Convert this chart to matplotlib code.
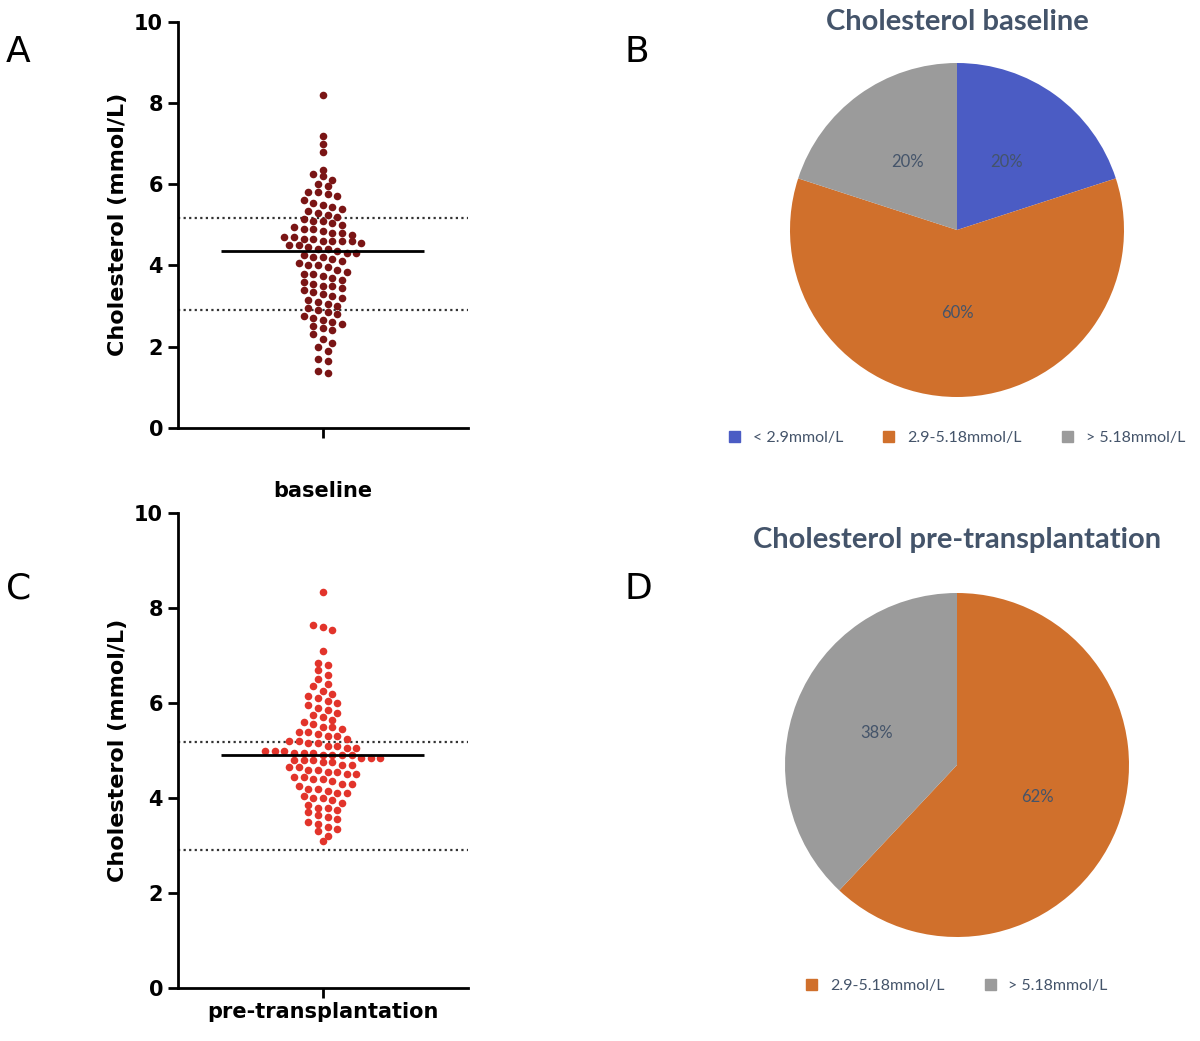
import numpy as np
import matplotlib.pyplot as plt

# panel A: cholesterol at baseline (mmol/L)
chol_base = [8.2, 7.2, 7.0, 6.8, 6.35, 6.25, 6.2, 6.1, 6.0, 5.95, 5.8, 5.8, 5.75, 5.7, 5.6, 5.55,
             5.5, 5.45, 5.4, 5.35, 5.3, 5.25, 5.2, 5.15, 5.1, 5.1, 5.05, 5.0, 4.95, 4.9, 4.9, 4.85,
             4.8, 4.8, 4.75, 4.7, 4.7, 4.65, 4.65, 4.6, 4.6, 4.6, 4.6, 4.55, 4.5, 4.5, 4.45, 4.4, 4.4,
             4.35, 4.3, 4.3, 4.25, 4.2, 4.2, 4.15, 4.1, 4.05, 4.0, 4.0, 3.95, 3.9, 3.85, 3.8, 3.8,
             3.75, 3.7, 3.65, 3.6, 3.55, 3.5, 3.5, 3.45, 3.4, 3.35, 3.3, 3.25, 3.2, 3.15, 3.1, 3.05,
             3.0, 2.95, 2.9, 2.85, 2.8, 2.75, 2.7, 2.65, 2.6, 2.55, 2.5, 2.45, 2.4, 2.3, 2.2, 2.1,
             2.0, 1.9, 1.7, 1.65, 1.4, 1.35]
# panel C: cholesterol pre-transplantation (mmol/L)
chol_pre = [8.35, 7.65, 7.6, 7.55, 7.1, 6.85, 6.8, 6.7, 6.6, 6.5, 6.4, 6.35, 6.25, 6.2, 6.15, 6.1,
            6.05, 6.0, 5.95, 5.9, 5.85, 5.8, 5.75, 5.7, 5.65, 5.6, 5.55, 5.5, 5.5, 5.45, 5.4, 5.4,
            5.35, 5.3, 5.3, 5.25, 5.2, 5.2, 5.15, 5.15, 5.1, 5.1, 5.05, 5.05, 5.0, 5.0, 5.0, 4.95,
            4.95, 4.95, 4.9, 4.9, 4.9, 4.9, 4.85, 4.85, 4.85, 4.8, 4.8, 4.8, 4.75, 4.75, 4.7, 4.7,
            4.65, 4.65, 4.6, 4.6, 4.55, 4.55, 4.5, 4.5, 4.45, 4.45, 4.4, 4.4, 4.35, 4.3, 4.3, 4.25,
            4.2, 4.2, 4.15, 4.1, 4.1, 4.05, 4.0, 4.0, 3.95, 3.9, 3.85, 3.8, 3.8, 3.75, 3.7, 3.65,
            3.6, 3.55, 3.5, 3.45, 3.4, 3.35, 3.3, 3.2, 3.1]
median_base = 4.35
median_pre = 4.9
cut_low, cut_high = 2.9, 5.18

pie_b_labels = ['< 2.9mmol/L', '2.9-5.18mmol/L', '> 5.18mmol/L']
pie_b_values = [20, 60, 20]
pie_d_labels = ['2.9-5.18mmol/L', '> 5.18mmol/L']
pie_d_values = [62, 38]

BLUE, ORANGE, GRAY, NAVY = '#4b5cc4', '#d0702c', '#9b9b9b', '#44546a'
W, H = 1200, 1041


def row_swarm(vals, binsize, step):
    # points grouped into rows, spread side by side around the centre
    bins = {}
    xs = []
    for v in vals:
        b = int(round(v / binsize))
        n = bins.get(b, 0)
        bins[b] = n + 1
        xs.append(n)
    out = []
    for v, i in zip(vals, xs):
        n = bins[int(round(v / binsize))]
        out.append((i - (n - 1) / 2) * step)
    return out


def dot_panel(ax, vals, median, color, binsize, title=None, xlabel=None):
    xs = row_swarm(vals, binsize, 0.066)
    ax.scatter(xs, vals, s=30, color=color, zorder=3, linewidths=0)
    ax.hlines(median, -0.7, 0.7, color='black', lw=2, zorder=4)
    for c in (cut_low, cut_high):
        ax.axhline(c, color='#333333', lw=1.6, ls=(0, (1, 1.5)), zorder=2)
    ax.set_xlim(-1, 1)
    ax.set_ylim(0, 10)
    ax.set_yticks([0, 2, 4, 6, 8, 10])
    ax.set_xticks([0])
    ax.set_xticklabels([xlabel or ''], fontsize=15, fontweight='bold')
    ax.set_ylabel('Cholesterol (mmol/L)', fontsize=16, fontweight='bold')
    for s in ('top', 'right'):
        ax.spines[s].set_visible(False)
    for s in ('left', 'bottom'):
        ax.spines[s].set_linewidth(2)
    ax.tick_params(width=2, length=7, labelsize=15)
    for t in ax.get_yticklabels():
        t.set_fontweight('bold')
    if title:
        ax.set_title(title, fontsize=15, fontweight='bold', pad=12)


def pie_axes(cx, cy, r):
    return fig.add_axes([(cx - r) / W, (H - cy - r) / H, 2 * r / W, 2 * r / H])


fig = plt.figure(figsize=(12, 10.41), dpi=100)

axA = fig.add_axes([0.148, 0.589, 0.242, 0.39])
dot_panel(axA, chol_base, median_base, '#7a1515', 0.22)
axC = fig.add_axes([0.148, 0.051, 0.242, 0.456])
dot_panel(axC, chol_pre, median_pre, '#e2342b', 0.19, title='baseline', xlabel='pre-transplantation')

for lab, (x, y) in zip('ABCD', [(0.005, 0.94), (0.52, 0.94), (0.005, 0.425), (0.52, 0.425)]):
    fig.text(x, y, lab, fontsize=26)

txt = dict(color=NAVY, fontsize=12, family='Lato')

# pie B
axB = pie_axes(957, 230, 167)
axB.pie(pie_b_values, colors=[BLUE, ORANGE, GRAY], startangle=90, counterclock=False,
        autopct='%d%%', pctdistance=0.5, textprops=txt, radius=1)
axB.set_xlim(-1, 1); axB.set_ylim(-1, 1)
fig.text(957 / W, 1 - 22 / H, 'Cholesterol baseline', ha='center', va='center',
         fontsize=21, fontweight='bold', color=NAVY, family='Lato')
fig.legend([plt.Rectangle((0, 0), 1, 1, color=c) for c in (BLUE, ORANGE, GRAY)], pie_b_labels,
           loc='center', bbox_to_anchor=(957 / W, 1 - 438 / H), ncol=3, frameon=False,
           prop=dict(family='Lato', size=11.5), labelcolor=NAVY, handlelength=0.7,
           handleheight=0.7, columnspacing=2.5)

# pie D
axD = pie_axes(957, 765, 172)
axD.pie(pie_d_values, colors=[ORANGE, GRAY], startangle=90, counterclock=False,
        autopct='%d%%', pctdistance=0.5, textprops=txt, radius=1)
axD.set_xlim(-1, 1); axD.set_ylim(-1, 1)
fig.text(957 / W, 1 - 540 / H, 'Cholesterol pre-transplantation', ha='center', va='center',
         fontsize=21, fontweight='bold', color=NAVY, family='Lato')
fig.legend([plt.Rectangle((0, 0), 1, 1, color=c) for c in (ORANGE, GRAY)], pie_d_labels,
           loc='center', bbox_to_anchor=(957 / W, 1 - 986 / H), ncol=2, frameon=False,
           prop=dict(family='Lato', size=11.5), labelcolor=NAVY, handlelength=0.7,
           handleheight=0.7, columnspacing=2.5)

plt.savefig('out.png', dpi=100)
